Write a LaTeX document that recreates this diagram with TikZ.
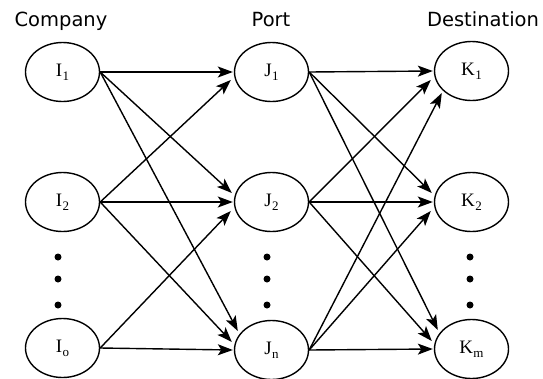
\documentclass[tikz,border=0pt]{standalone}
\usepackage{fontspec}
\setmainfont{Liberation Serif}
\newfontfamily\headfont{DejaVu Sans}
\usetikzlibrary{arrows.meta,shapes.geometric,calc}

% node label with a lowered index
\newcommand\sublabel[2]{#1\kern0.3pt\raisebox{-0.45ex}{\fontsize{13}{13}\selectfont #2}}

\begin{document}
\begin{tikzpicture}[x=1pt,y=-1pt,
  place/.style={draw, line width=1.4pt, ellipse, minimum width=74pt,
                minimum height=59pt, inner sep=0pt,
                font=\fontsize{19}{19}\selectfont},
  head/.style={font=\headfont\fontsize{19.5}{19.5}\selectfont, anchor=base},
  link/.style={line width=1.4pt,
               -{Stealth[length=15pt,width=11pt,inset=3.5pt]}},
  dot/.style={circle, fill, inner sep=0pt, minimum size=7pt}]

  \useasboundingbox (0,0) rectangle (543,378);

  % column headings
  \node[head] (hc) at (61,26) {Company};
  \node[head] (hp) at (271,26) {Port};
  \node[head] (hd) at (483,26) {Destination};

  % companies
  \node[place] (I1) at (62.5,72)  {\sublabel{I}{1}};
  \node[place] (I2) at (62.5,202) {\sublabel{I}{2}};
  \node[place] (Io) at (62.5,348) {\sublabel{I}{o}};
  % ports
  \node[place] (J1) at (271.5,72)  {\sublabel{J}{1}};
  \node[place] (J2) at (271.5,202) {\sublabel{J}{2}};
  \node[place] (Jn) at (271.5,350) {\sublabel{J}{n}};
  % destinations
  \node[place] (K1) at (471.5,71)  {\sublabel{K}{1}};
  \node[place] (K2) at (471.5,202) {\sublabel{K}{2}};
  \node[place] (Km) at (471.5,349) {\sublabel{K}{m}};

  % ellipsis dots in each column
  \foreach \c/\x in {a/58,b/267,c/470}{
    \node[dot] (\c1) at (\x,257) {};
    \node[dot] (\c2) at (\x,279) {};
    \node[dot] (\c3) at (\x,305) {};
  }

  % company -> port
  \foreach \src/\dst/\dx/\dy in {
      I1/J1/-1/0, I1/J2/-2/-9, I1/Jn/4/-19,
      I2/J1/-3/8, I2/J2/-1/0, I2/Jn/-2/-8,
      Io/J2/-3/9, Io/Jn/-1/0}
    \draw[link] (\src.east) -- ([shift={(\dx,\dy)}]\dst.west);

  % port -> destination
  \foreach \src/\dst/\dx/\dy in {
      J1/K1/-1/0, J1/K2/-2/-9, J1/Km/4/-19,
      J2/K1/-3/9, J2/K2/-1/0, J2/Km/-2/-8,
      Jn/K1/8/22, Jn/K2/-3/9, Jn/Km/-1/0}
    \draw[link] (\src.east) -- ([shift={(\dx,\dy)}]\dst.west);
\end{tikzpicture}
\end{document}
